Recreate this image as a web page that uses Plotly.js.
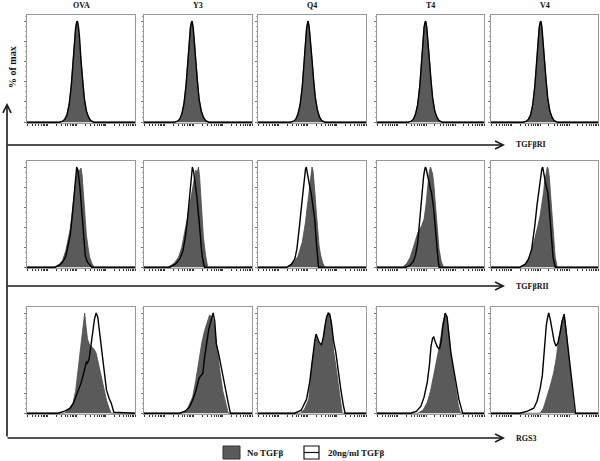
<!DOCTYPE html>
<html><head><meta charset="utf-8">
<script src="https://cdn.plot.ly/plotly-3.0.1.min.js"></script>
<style>html,body{margin:0;padding:0;background:#fff}#chart{width:600px;height:461px}</style>
</head><body><div id="chart"></div>
<script>
// ---------- categories ----------
const peptides = ['OVA','Y3','Q4','T4','V4'];
const markers = ['TGFβRI','TGFβRII','RGS3'];
const seriesNames = ['No TGFβ','20ng/ml TGFβ'];

// ---------- Row 1 : TGFβRI (x = channel position 0-100, y = % of max) ----------
const RI_OVA_none_x = [0,30,33,35,37,39,41,43,44,45,46,46.5,47.5,48.5,50,51.5,53,55,57,59,62,100];
const RI_OVA_none_y = [0,0,1,3,8,18,37,65,82,93,99,100,94,84,62,42,24,11,5,1.5,0,0];
const RI_OVA_tgf_x  = [0,30,33,35,37,39,41,43,44,45,46,46.7,47.7,48.7,50,51.5,53,55,57,59,62,100];
const RI_OVA_tgf_y  = [0,0,1,3,7,17,36,64,81,93,99,100,94,83,61,41,24,11,5,1.5,0,0];
const RI_Y3_none_x  = [0,28,31,33,35,37,39,41,42,43,44,44.5,45.5,46.5,48,49.5,51,53,55,57,60,100];
const RI_Y3_none_y  = [0,0,1,3,8,19,38,66,83,94,99,100,93,83,61,41,23,11,5,1.5,0,0];
const RI_Y3_tgf_x   = [0,28,31,33,35,37,39,41,42,43,44,44.6,45.6,46.6,48,49.5,51,53,55,57,60,100];
const RI_Y3_tgf_y   = [0,0,1,3,8,18,37,65,82,94,99,100,93,82,60,40,23,11,5,1.5,0,0];
const RI_Q4_none_x  = [0,30,33,35,37,39,41,43,44,45,46,46.3,47.3,48.3,50,51.5,53,55,57,59,62,100];
const RI_Q4_none_y  = [0,0,1,3,8,18,36,64,82,93,99,100,95,85,62,42,25,12,5,1.5,0,0];
const RI_Q4_tgf_x   = [0,30,33,35,37,39,41,43,44,45,46,46.4,47.4,48.4,50,51.5,53,55,57,59,62,100];
const RI_Q4_tgf_y   = [0,0,1,3,8,17,35,63,81,93,99,100,94,84,62,42,25,12,5,1.5,0,0];
const RI_T4_none_x  = [0,29,32,34,36,38,40,42,43,44,45,45.4,46.4,47.4,49,50.5,52,54,56,58,61,100];
const RI_T4_none_y  = [0,0,1,3,8,18,37,65,83,94,99,100,94,84,62,41,24,11,5,1.5,0,0];
const RI_T4_tgf_x   = [0,29,32,34,36,38,40,42,43,44,45,45.5,46.5,47.5,49,50.5,52,54,56,58,61,100];
const RI_T4_tgf_y   = [0,0,1,3,8,17,36,64,82,94,99,100,94,83,61,41,24,11,5,1.5,0,0];
const RI_V4_none_x  = [0,30,33,35,37,39,41,43,44,45,46,46.5,47.5,48.5,50,51.5,53,55,57,59,62,100];
const RI_V4_none_y  = [0,0,1,3,8,18,37,65,82,93,99,100,94,84,62,42,24,11,5,1.5,0,0];
const RI_V4_tgf_x   = [0,30,33,35,37,39,41,43,44,45,46,46.6,47.6,48.6,50,51.5,53,55,57,59,62,100];
const RI_V4_tgf_y   = [0,0,1,3,7,17,36,64,81,93,99,100,94,83,61,41,24,11,5,1.5,0,0];

// ---------- Row 2 : TGFβRII ----------
const RII_OVA_none_x = [0,25,30,33,36,38,40,41,42,43,44,45,46,47,48,49,50,51,52,53.4,55,56.5,58,60,62,100];
const RII_OVA_none_y = [0,0,3,7,17,26,38,47,55,64,76,85,93,98,95,97,99,92,75,51,32,20,10,4,0,0];
const RII_OVA_tgf_x  = [0,26,30,33,36,38,40,42,43,44,45,46,47,48,49,50,51,52,53,54,56,58,60,100];
const RII_OVA_tgf_y  = [0,0,2,5,11,20,32,52,64,78,92,100,97,90,80,66,50,35,22,11,5,2,0,0];
const RII_Y3_none_x  = [0,22,28,32,35,38,40,42,44,46,47,48,49,50,50.5,51.5,52.5,53.5,55,57,59,100];
const RII_Y3_none_y  = [0,0,4,10,20,35,48,60,72,85,92,97,94,97,100,90,70,52,30,12,0,0];
const RII_Y3_tgf_x   = [0,24,29,33,36,38,40,42,43,44,44.8,46,47,48,49,50,51,52,53,54,56,100];
const RII_Y3_tgf_y   = [0,0,3,8,16,28,45,68,82,94,100,95,88,80,70,58,48,34,20,10,0,0];
const RII_Q4_none_x  = [0,26,31,34,37,39,41,42,43,44,45,46,47,48,49,50,51,52,53,54,55,56.5,58,60,62,100];
const RII_Q4_none_y  = [0,0,3,6,11,17,25,32,38,45,55,62,72,82,95,100,96,85,70,55,40,22,12,4,0,0];
const RII_Q4_tgf_x   = [0,27,31,34,36,37.5,38.5,40,41.5,43,44,44.7,45.5,46.5,48,49.5,51,52.5,54,55,56,100];
const RII_Q4_tgf_y   = [0,0,3,8,18,30,42,58,75,90,98,100,96,88,80,72,62,48,25,10,0,0];
const RII_T4_none_x  = [0,24,28,31,34,36,38,40,42,44,45,46,47,48,49,50,51,52,53,54,55,56.5,58,60,62,100];
const RII_T4_none_y  = [0,0,4,10,20,28,34,38,42,48,55,64,76,88,96,100,97,93,84,70,54,34,18,6,0,0];
const RII_T4_tgf_x   = [0,27,31,34,36,38,40,42,43.5,44.5,45.3,46,47,48,49,50,51,52,53,54,55,56.5,58,100];
const RII_T4_tgf_y   = [0,0,2,6,12,24,48,75,90,97,100,98,92,86,82,78,74,68,58,46,32,14,0,0];
const RII_V4_none_x  = [0,28,32,35,38,40,42,44,46,47,48,49,50,51,52,52.6,53.5,54.5,55.5,57,58.5,60,62,100];
const RII_V4_none_y  = [0,0,3,8,16,24,32,42,52,58,66,74,84,92,97,100,98,90,75,50,28,10,0,0];
const RII_V4_tgf_x   = [0,27,32,35,38,40,41,43,45,46.5,47.5,48.3,49,50,51,52,53,54,55,56,57,58,60,100];
const RII_V4_tgf_y   = [0,0,3,8,18,32,42,62,80,92,98,100,97,90,83,80,75,64,50,34,20,10,0,0];

// ---------- Row 3 : RGS3 ----------
const RGS3_OVA_none_x = [0,35,38,42.5,45,47,49,50,51.5,52.5,53.4,54.5,56,58,60,62,64,66,67.5,69,71,73.6,76,78,100];
const RGS3_OVA_none_y = [0,0,3,10,22,41,60,70,84,95,100,88,74,68,66,64,60,50,41,33,24,13,5,0,0];
const RGS3_OVA_tgf_x  = [0,28.5,35,40,43,45.6,48,50,52,54,55,56,57.5,59,61,62.5,64,65.5,67.4,69,70.5,72,73.6,76,78,80.4,100];
const RGS3_OVA_tgf_y  = [0,0,2,5,10,17,24,30,38,48,51,50,54,66,82,94,100,96,79,64,48,35,23,15,10,1,0];
const RGS3_Y3_none_x  = [0,36,40,45,48,51,53.5,56,58,59.5,60.7,62,63.5,65,66.8,68.5,70.5,73,75.5,78,100];
const RGS3_Y3_none_y  = [0,0,4,16,33,54,70,82,90,95,98,97,95,89,72,56,40,22,10,0,0];
const RGS3_Y3_tgf_x   = [0,33,38,42,45,48,51,53,54.5,56,57.6,60,62,64,65.5,67,69,71,73,75.5,78,80,100];
const RGS3_Y3_tgf_y   = [0,0,2,6,13,22,35,38,40,55,69,84,92,100,92,69,60,48,38,24,10,0,0];
const RGS3_Q4_none_x  = [0,39,43,47,50,52.5,53.75,55,56.5,58.75,60.5,62,63.5,65,66.5,68,70,72,75,77,78,100];
const RGS3_Q4_none_y  = [0,0,4,14,50,70,76,73,69,67,75,86,95,99,100,88,62,48,25,7,0,0];
const RGS3_Q4_tgf_x   = [0,34,40,45,48,50,52.5,53.75,55,56.5,58.75,60.5,62,63.5,65,66.5,68,70,72,74,76.5,79,80.6,100];
const RGS3_Q4_tgf_y   = [0,0,3,14,32,52,72,79,76,71,68,76,87,96,100,98,90,72,61,44,25,8,0,0];
const RGS3_T4_none_x  = [0,38,43,47,50,53.6,56,58.4,60,61.5,63.7,65.5,67,69,71,74,76,78,100];
const RGS3_T4_none_y  = [0,0,3,11,22,40,52,67,78,90,99,95,80,58,44,21,8,0,0];
const RGS3_T4_tgf_x   = [0,31.5,37,41,44,47,49,50.5,52,53,54.5,56.5,58.4,60,61.5,63.7,65.5,67,69,71,74,76.5,79,80,100];
const RGS3_T4_tgf_y   = [0,0,2,7,16,31,48,67,75,76,71,66,64,72,86,100,96,80,61,48,28,14,4,0,0];
const RGS3_V4_none_x  = [0,46,49,52,55,58.5,61,63,64.5,66,67.3,68.4,70,72,73.5,75,77,78,100];
const RGS3_V4_none_y  = [0,0,5,15,26,40,55,72,82,90,95,98,86,62,45,28,8,0,0];
const RGS3_V4_tgf_x   = [0,27,34,40,43,46,48,49,50.5,51.7,53,54,55.5,57,59,60.7,62.5,64.5,66.5,68.4,70,72,73.5,75,77,79,100];
const RGS3_V4_tgf_y   = [0,0,2,5,12,25,38,54,72,88,96,100,93,82,72,67,70,80,92,99,84,65,48,32,14,0,0];

// ---------- table built from the arrays above ----------
const rowsData = [
  [[RI_OVA_none_x,RI_OVA_none_y,RI_OVA_tgf_x,RI_OVA_tgf_y],[RI_Y3_none_x,RI_Y3_none_y,RI_Y3_tgf_x,RI_Y3_tgf_y],[RI_Q4_none_x,RI_Q4_none_y,RI_Q4_tgf_x,RI_Q4_tgf_y],[RI_T4_none_x,RI_T4_none_y,RI_T4_tgf_x,RI_T4_tgf_y],[RI_V4_none_x,RI_V4_none_y,RI_V4_tgf_x,RI_V4_tgf_y]],
  [[RII_OVA_none_x,RII_OVA_none_y,RII_OVA_tgf_x,RII_OVA_tgf_y],[RII_Y3_none_x,RII_Y3_none_y,RII_Y3_tgf_x,RII_Y3_tgf_y],[RII_Q4_none_x,RII_Q4_none_y,RII_Q4_tgf_x,RII_Q4_tgf_y],[RII_T4_none_x,RII_T4_none_y,RII_T4_tgf_x,RII_T4_tgf_y],[RII_V4_none_x,RII_V4_none_y,RII_V4_tgf_x,RII_V4_tgf_y]],
  [[RGS3_OVA_none_x,RGS3_OVA_none_y,RGS3_OVA_tgf_x,RGS3_OVA_tgf_y],[RGS3_Y3_none_x,RGS3_Y3_none_y,RGS3_Y3_tgf_x,RGS3_Y3_tgf_y],[RGS3_Q4_none_x,RGS3_Q4_none_y,RGS3_Q4_tgf_x,RGS3_Q4_tgf_y],[RGS3_T4_none_x,RGS3_T4_none_y,RGS3_T4_tgf_x,RGS3_T4_tgf_y],[RGS3_V4_none_x,RGS3_V4_none_y,RGS3_V4_tgf_x,RGS3_V4_tgf_y]]
];

// ---------- layout geometry (pixels) ----------
const W = 600, H = 461;
const colPx = [[27,135],[144,252],[258,366],[377,484],[491,598]];
const rowPx = [[15,123],[161,268],[307,414]];
const arrowY = [145,286,438];
const px = v => v / W, py = v => 1 - v / H;
const FONT = 'Liberation Serif, Times New Roman, serif';

// log-like decade tick marks along the bottom
const xTicks = [];
[-8,19,46,73].forEach(p => { for (let k = 1; k <= 9; k++) { const v = p + 27 * Math.log10(k); if (v >= 0 && v <= 100) xTicks.push(+v.toFixed(2)); } });
xTicks.push(100);

const traces = [];
const layout = {
  width: W, height: H, margin: {l:0,r:0,t:0,b:0},
  paper_bgcolor: '#fff', plot_bgcolor: '#fff', showlegend: false,
  font: {family: FONT, color: '#111'},
  shapes: [], annotations: []
};

let n = 0;
for (let r = 0; r < 3; r++) {
  for (let c = 0; c < 5; c++) {
    n++;
    const xa = n === 1 ? 'x' : 'x' + n, ya = n === 1 ? 'y' : 'y' + n;
    const d = rowsData[r][c];
    traces.push({x: d[0], y: d[1], xaxis: xa, yaxis: ya, type: 'scatter', mode: 'lines',
      name: seriesNames[0], fill: 'tozeroy', fillcolor: '#5a5a5a', line: {color: '#4a4a4a', width: 0.8}, hoverinfo: 'skip'});
    traces.push({x: d[2], y: d[3], xaxis: xa, yaxis: ya, type: 'scatter', mode: 'lines',
      name: seriesNames[1], line: {color: '#000', width: 1.4}, hoverinfo: 'skip'});
    layout['xaxis' + (n === 1 ? '' : n)] = {
      domain: [px(colPx[c][0]), px(colPx[c][1])], anchor: ya, range: [0, 100],
      showline: true, mirror: true, linecolor: '#999', linewidth: 1,
      showgrid: false, zeroline: false, showticklabels: false,
      tickmode: 'array', tickvals: xTicks, ticks: 'outside', ticklen: 2, tickwidth: 1, tickcolor: '#333', fixedrange: true
    };
    layout['yaxis' + (n === 1 ? '' : n)] = {
      domain: [py(rowPx[r][1]), py(rowPx[r][0])], anchor: xa, range: [-0.8, 106],
      showline: true, mirror: true, linecolor: '#999', linewidth: 1,
      showgrid: false, zeroline: false, showticklabels: false,
      tickmode: 'array', tickvals: [0,20,40,60,80,100], ticks: 'outside', ticklen: 2.5, tickwidth: 1, tickcolor: '#777',
      minor: {ticks: 'outside', ticklen: 1.5, tickcolor: '#aaa', dtick: 5}, fixedrange: true
    };
  }
}

// column titles
peptides.forEach((p, c) => layout.annotations.push({
  xref: 'paper', yref: 'paper', x: px((colPx[c][0] + colPx[c][1]) / 2), y: py(5),
  text: '<b>' + p + '</b>', showarrow: false, xanchor: 'center', yanchor: 'middle',
  font: {family: FONT, size: 8, color: '#111'}
}));

// y-axis label
layout.annotations.push({xref: 'paper', yref: 'paper', x: px(13), y: py(67), text: '<b>% of max</b>',
  textangle: -90, showarrow: false, xanchor: 'center', yanchor: 'middle', font: {family: FONT, size: 10, color: '#111'}});

// vertical arrow
layout.annotations.push({xref: 'paper', yref: 'paper', x: px(7), y: py(103), ax: 0, ay: arrowY[2] - 103,
  axref: 'pixel', ayref: 'pixel', text: '', showarrow: true, arrowhead: 5, arrowsize: 1, arrowwidth: 1.6, arrowcolor: '#1a1a1a'});

// horizontal arrows + marker labels
markers.forEach((m, r) => {
  layout.annotations.push({xref: 'paper', yref: 'paper', x: px(505), y: py(arrowY[r]), ax: -(505 - 6), ay: 0,
    axref: 'pixel', ayref: 'pixel', text: '', showarrow: true, arrowhead: 5, arrowsize: 1, arrowwidth: 1.6, arrowcolor: '#1a1a1a'});
  layout.annotations.push({xref: 'paper', yref: 'paper', x: px(514), y: py(arrowY[r]), text: '<b>' + m + '</b>',
    showarrow: false, xanchor: 'left', yanchor: 'middle', font: {family: FONT, size: 8, color: '#111'}});
});

// legend
layout.shapes.push({type: 'rect', xref: 'paper', yref: 'paper', x0: px(223), x1: px(240), y0: py(459), y1: py(446),
  fillcolor: '#5a5a5a', line: {color: '#333', width: 1}});
layout.shapes.push({type: 'rect', xref: 'paper', yref: 'paper', x0: px(304), x1: px(319), y0: py(459), y1: py(446),
  fillcolor: '#fff', line: {color: '#111', width: 1.2}});
layout.shapes.push({type: 'line', xref: 'paper', yref: 'paper', x0: px(304), x1: px(319), y0: py(452.5), y1: py(452.5),
  line: {color: '#111', width: 1.2}});
layout.annotations.push({xref: 'paper', yref: 'paper', x: px(245), y: py(452.5), text: '<b>' + seriesNames[0] + '</b>',
  showarrow: false, xanchor: 'left', yanchor: 'middle', font: {family: FONT, size: 9, color: '#111'}});
layout.annotations.push({xref: 'paper', yref: 'paper', x: px(326), y: py(452.5), text: '<b>' + seriesNames[1] + '</b>',
  showarrow: false, xanchor: 'left', yanchor: 'middle', font: {family: FONT, size: 9, color: '#111'}});

Plotly.newPlot('chart', traces, layout, {staticPlot: true, displayModeBar: false});
</script></body></html>
